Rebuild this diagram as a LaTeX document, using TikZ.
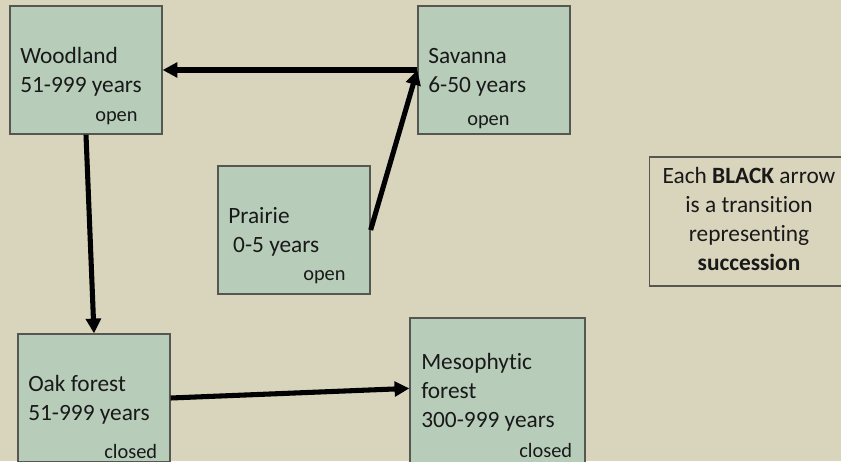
\documentclass[tikz,border=0pt]{standalone}
\usepackage{fontspec}
\setmainfont{Carlito}[Ligatures=NoCommon]
\usetikzlibrary{arrows.meta}

\definecolor{bgtan}{RGB}{217,212,188}
\definecolor{boxgreen}{RGB}{183,205,186}
\definecolor{boxline}{RGB}{85,87,80}
\definecolor{inktext}{RGB}{25,25,25}

\tikzset{
  stage/.style={shape=rectangle,draw=boxline,fill=boxgreen,line width=0.9pt,inner sep=0pt},
  txt/.style={anchor=base west,inner sep=0pt,text=inktext,align=left,font=\fontsize{16.6}{20.6}\selectfont},
  cover/.style={anchor=base west,inner sep=0pt,text=inktext,font=\fontsize{14.5}{17}\selectfont},
  succ/.style={line width=3.6pt,-{Triangle[length=10.5pt,width=10.5pt]}}
}

\begin{document}
\begin{tikzpicture}[x=0.025cm,y=-0.025cm]
\fill[bgtan] (0,0) rectangle (841,461);
\clip (0,0) rectangle (841,461);

\node[stage,minimum width=3.8cm,minimum height=3.2cm] (wood) at (86,70) {};
\node[stage,minimum width=3.8cm,minimum height=3.2cm] (sav) at (494,70) {};
\node[stage,minimum width=3.8cm,minimum height=3.2cm] (prairie) at (294,230) {};
\node[stage,minimum width=3.8cm,minimum height=3.2cm] (oak) at (94,398) {};
\node[stage,minimum width=4.375cm,minimum height=3.75cm] (meso) at (497.5,393) {};
\node[shape=rectangle,draw=boxline,line width=0.9pt,minimum width=5.025cm,minimum height=3.225cm] (key) at (750,221.5) {};

% box texts (base = last line)
\node[txt] (wood-t) at (20,92) {Woodland\\51-999 years};
\node[cover] (wood-c) at (95,121) {open};
\node[txt] (sav-t) at (428,92) {Savanna\\6-50 years};
\node[cover] (sav-c) at (467,125) {open};
\node[txt] (prairie-t) at (228,252) {Prairie\\\hspace*{3.5pt}0-5 years};
\node[cover] (prairie-c) at (303,280) {open};
\node[txt] (oak-t) at (28,420) {Oak forest\\51-999 years};
\node[cover] (oak-c) at (104,458) {closed};
\node[txt] (meso-t) at (421,427) {Mesophytic\\forest\\300-999 years};
\node[cover] (meso-c) at (519,457) {closed};

\node[txt,anchor=base,align=center] (key-t) at (749,270) {Each \textbf{BLACK} arrow\\is a transition\\representing\\\textbf{succession}};

% succession
\path [succ] (sav.west) edge (wood.east);
\path [succ] (wood.south) edge (oak.north);
\path [succ] (prairie.east) edge (sav.west);
\path [succ] (oak.east) edge (meso.177);
\end{tikzpicture}
\end{document}
